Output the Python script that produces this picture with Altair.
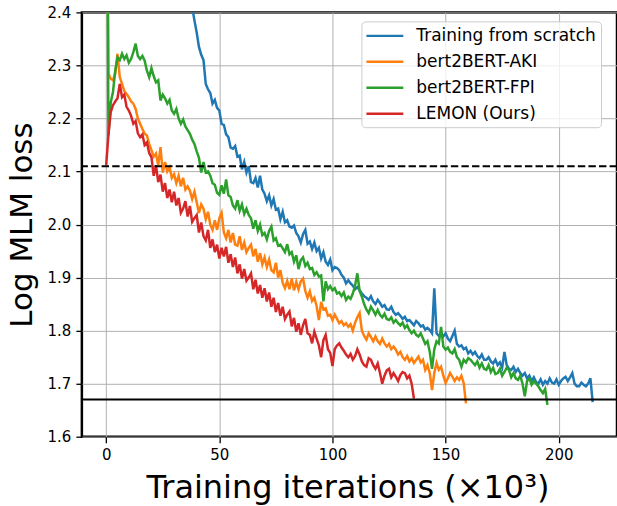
import altair as alt
import pandas as pd

SERIES = ["Training from scratch", "bert2BERT-AKI", "bert2BERT-FPI", "LEMON (Ours)"]
COLORS = ["#1f77b4", "#ff7f0e", "#2ca02c", "#d62728"]

X_TICKS = [0, 50, 100, 150, 200]
Y_TICKS = [1.6, 1.7, 1.8, 1.9, 2.0, 2.1, 2.2, 2.3, 2.4]
REF_DASHED = 2.11
REF_SOLID = 1.67

# loss curves, one value per 1k iterations
scratch_start = 30
scratch_loss = [
    2.6, 2.575, 2.55, 2.53, 2.505, 2.48, 2.455, 2.43, 2.41, 2.385,
    2.362, 2.335, 2.32, 2.31, 2.265, 2.255, 2.248, 2.228, 2.235, 2.22,
    2.215, 2.19, 2.188, 2.17, 2.165, 2.145, 2.143, 2.148, 2.128, 2.13,
    2.104, 2.118, 2.098, 2.11, 2.08, 2.078, 2.088, 2.07, 2.092, 2.066,
    2.058, 2.044, 2.055, 2.036, 2.048, 2.028, 2.03, 2.01, 2.024, 2.004,
    2.008, 1.996, 1.994, 1.998, 1.984, 1.978, 1.966, 1.982, 1.99, 1.964,
    1.968, 1.954, 1.966, 1.95, 1.956, 1.936, 1.948, 1.93, 1.924, 1.934,
    1.914, 1.92, 1.918, 1.914, 1.905, 1.9, 1.889, 1.895, 1.889, 1.885,
    1.878, 1.882, 1.876, 1.87, 1.865, 1.862, 1.858, 1.865, 1.855, 1.85,
    1.858, 1.852, 1.845, 1.848, 1.84, 1.839, 1.845, 1.835, 1.83, 1.833,
    1.828, 1.822, 1.826, 1.818, 1.82, 1.815, 1.81, 1.818, 1.814, 1.808,
    1.81, 1.802, 1.805, 1.801, 1.795, 1.88, 1.795, 1.79, 1.795, 1.789,
    1.795, 1.785, 1.78, 1.79, 1.80, 1.775, 1.77, 1.772, 1.765, 1.768,
    1.757, 1.762, 1.755, 1.76, 1.752, 1.748, 1.755, 1.745, 1.745, 1.75,
    1.742, 1.738, 1.745, 1.735, 1.74, 1.73, 1.76, 1.735, 1.728, 1.726,
    1.732, 1.722, 1.728, 1.72, 1.715, 1.72, 1.71, 1.715, 1.705, 1.712,
    1.703, 1.70, 1.708, 1.698, 1.705, 1.70, 1.71, 1.702, 1.70, 1.708,
    1.698, 1.705, 1.71, 1.713, 1.705, 1.712, 1.72, 1.70, 1.695, 1.695,
    1.702, 1.698, 1.695, 1.70, 1.71, 1.665,
]

aki_start = 0
aki_loss = [
    3.0, 2.285, 2.275, 2.272, 2.285, 2.322, 2.278, 2.265, 2.252, 2.246,
    2.24, 2.232, 2.228, 2.218, 2.2, 2.19, 2.18, 2.171, 2.168, 2.152,
    2.14, 2.128, 2.134, 2.112, 2.146, 2.098, 2.118, 2.1, 2.108, 2.088,
    2.095, 2.078, 2.092, 2.072, 2.088, 2.066, 2.072, 2.064, 2.048, 2.062,
    2.042, 2.022, 2.038, 2.03, 2.01, 2.024, 2.0, 1.99, 2.008, 1.99,
    2.012, 2.022, 1.985, 1.974, 1.99, 1.966, 1.984, 1.962, 1.96, 1.978,
    1.952, 1.966, 1.948, 1.956, 1.962, 1.94, 1.954, 1.93, 1.946, 1.925,
    1.938, 1.92, 1.934, 1.914, 1.91, 1.928, 1.9, 1.914, 1.89, 1.88,
    1.894, 1.878, 1.898, 1.876, 1.892, 1.878, 1.893, 1.898, 1.875, 1.862,
    1.874, 1.856, 1.862, 1.846, 1.82, 1.854, 1.84, 1.842, 1.828, 1.83,
    1.82, 1.83, 1.822, 1.814, 1.818, 1.81, 1.814, 1.807, 1.812, 1.8,
    1.815, 1.825, 1.833, 1.8, 1.79, 1.783, 1.795, 1.788, 1.78, 1.789,
    1.78, 1.775, 1.785, 1.776, 1.77, 1.775, 1.765, 1.77, 1.764, 1.755,
    1.76, 1.75, 1.745, 1.752, 1.742, 1.748, 1.739, 1.745, 1.751, 1.74,
    1.745, 1.726, 1.735, 1.72, 1.688, 1.72, 1.739, 1.726, 1.732, 1.715,
    1.701, 1.71, 1.72, 1.713, 1.705, 1.712, 1.707, 1.715, 1.701, 1.663,
]

fpi_start = 0
fpi_loss = [
    2.95, 2.168, 2.23, 2.25, 2.29, 2.315, 2.31, 2.322, 2.312, 2.319,
    2.305, 2.312, 2.325, 2.341, 2.318, 2.312, 2.318, 2.309, 2.29, 2.278,
    2.295, 2.28, 2.268, 2.272, 2.234, 2.245, 2.238, 2.228, 2.235, 2.215,
    2.209, 2.218, 2.2, 2.19, 2.198, 2.185, 2.178, 2.171, 2.16, 2.152,
    2.138, 2.126, 2.098, 2.118, 2.098, 2.1, 2.092, 2.078, 2.075, 2.06,
    2.056, 2.074, 2.058, 2.085, 2.055, 2.052, 2.036, 2.03, 2.046, 2.026,
    2.038, 2.02, 2.03, 2.018, 2.012, 1.992, 2.008, 1.988, 2.0, 1.98,
    1.984, 1.972, 1.988, 1.996, 1.97, 1.974, 1.96, 1.962, 1.955, 1.948,
    1.963, 1.944, 1.948, 1.93, 1.942, 1.916, 1.933, 1.938, 1.922, 1.928,
    1.916, 1.918, 1.905, 1.91, 1.902, 1.904, 1.855, 1.893, 1.878, 1.884,
    1.876, 1.88, 1.87, 1.872, 1.865, 1.872, 1.858, 1.864, 1.86, 1.87,
    1.885, 1.908, 1.875, 1.864, 1.85, 1.84, 1.833, 1.845, 1.838, 1.83,
    1.839, 1.83, 1.825, 1.832, 1.822, 1.82, 1.825, 1.815, 1.82, 1.814,
    1.81, 1.815, 1.805, 1.81, 1.801, 1.795, 1.8, 1.792, 1.789, 1.795,
    1.785, 1.775, 1.78, 1.76, 1.728, 1.765, 1.78, 1.776, 1.807, 1.77,
    1.764, 1.768, 1.76, 1.757, 1.765, 1.75, 1.745, 1.732, 1.745, 1.74,
    1.748, 1.745, 1.74, 1.735, 1.742, 1.73, 1.738, 1.728, 1.726, 1.735,
    1.722, 1.73, 1.718, 1.72, 1.728, 1.715, 1.722, 1.73, 1.726, 1.712,
    1.72, 1.71, 1.707, 1.715, 1.7, 1.676, 1.705, 1.71, 1.698, 1.705,
    1.70, 1.695, 1.688, 1.682, 1.69, 1.66,
]

lemon_start = 0
lemon_loss = [
    2.112, 2.17, 2.212, 2.225, 2.232, 2.238, 2.265, 2.24, 2.245, 2.222,
    2.215, 2.205, 2.19, 2.195, 2.172, 2.165, 2.17, 2.15, 2.155, 2.135,
    2.127, 2.092, 2.112, 2.08, 2.094, 2.062, 2.078, 2.05, 2.066, 2.042,
    2.062, 2.036, 2.05, 2.022, 2.03, 2.044, 2.015, 2.035, 2.005, 2.012,
    2.018, 1.985, 2.004, 1.978, 1.97, 1.99, 1.956, 1.972, 1.948, 1.962,
    1.936, 1.956, 1.94, 1.958, 1.928, 1.944, 1.92, 1.938, 1.908, 1.925,
    1.898, 1.916, 1.894, 1.9, 1.908, 1.878, 1.896, 1.87, 1.886, 1.862,
    1.88, 1.855, 1.872, 1.845, 1.862, 1.835, 1.852, 1.828, 1.845, 1.822,
    1.83, 1.836, 1.808, 1.824, 1.798, 1.814, 1.792, 1.81, 1.822, 1.795,
    1.792, 1.776, 1.798, 1.785, 1.772, 1.75, 1.782, 1.792, 1.765, 1.758,
    1.733, 1.765, 1.772, 1.776, 1.768, 1.762, 1.755, 1.75, 1.756, 1.745,
    1.752, 1.765, 1.755, 1.742, 1.735, 1.732, 1.748, 1.745, 1.735, 1.728,
    1.738, 1.72, 1.70, 1.715, 1.725, 1.728, 1.712, 1.72, 1.713, 1.705,
    1.716, 1.722, 1.72, 1.71, 1.715, 1.70, 1.672,
]

rows = []
for name, start, vals in [
    (SERIES[0], scratch_start, scratch_loss),
    (SERIES[1], aki_start, aki_loss),
    (SERIES[2], fpi_start, fpi_loss),
    (SERIES[3], lemon_start, lemon_loss),
]:
    for i, v in enumerate(vals):
        rows.append({"series": name, "iter": start + i, "loss": v})
df = pd.DataFrame(rows)

FONT = "DejaVu Sans"

x_enc = alt.X(
    "iter:Q",
    scale=alt.Scale(domain=[-10.75, 225.75], nice=False, zero=False),
    axis=alt.Axis(
        values=X_TICKS, format="d", title="Training iterations (×10³)",
        grid=True, gridColor="#b0b0b0", gridWidth=1, domain=False,
        ticks=True, tickSize=6, tickWidth=1.3, tickColor="black",
        labelFont=FONT, labelFontSize=15, labelColor="black", labelPadding=5,
        titleFont=FONT, titleFontSize=32, titleFontWeight="normal", titleColor="black",
        titleBaseline="alphabetic", titleY=61, titleX=266, titleAlign="center",
    ),
)
y_enc = alt.Y(
    "loss:Q",
    scale=alt.Scale(domain=[1.6, 2.4], nice=False, zero=False),
    axis=alt.Axis(
        values=Y_TICKS, format=".1f", title="Log MLM loss",
        grid=True, gridColor="#b0b0b0", gridWidth=1, domain=False,
        ticks=True, tickSize=6, tickWidth=1.3, tickColor="black",
        labelFont=FONT, labelFontSize=15, labelColor="black", labelPadding=5,
        titleFont=FONT, titleFontSize=31, titleFontWeight="normal", titleColor="black",
        titleAngle=270, titleBaseline="alphabetic", titleX=-50, titleY=212.5,
        titleAlign="center",
    ),
)
color_enc = alt.Color(
    "series:N",
    scale=alt.Scale(domain=SERIES, range=COLORS),
    legend=alt.Legend(
        title=None, orient="none", legendX=280, legendY=9,
        symbolType="M-2.31,0L2.31,0", symbolSize=256, symbolStrokeWidth=2.4,
        symbolOffset=9, labelOffset=22, rowPadding=8, padding=5,
        labelFont=FONT, labelFontSize=17, labelColor="black", labelLimit=0,
        strokeColor="#cccccc", fillColor="rgba(255,255,255,0.8)", cornerRadius=4,
    ),
)

layers = []
for name in SERIES:
    layers.append(
        alt.Chart(df)
        .transform_filter(alt.datum.series == name)
        .mark_line(clip=True, strokeWidth=2.5)
        .encode(x=x_enc, y=y_enc, color=color_enc)
    )

dashed = alt.Chart(pd.DataFrame({"loss": [REF_DASHED]})).mark_rule(
    color="black", strokeWidth=2, strokeDash=[7.4, 3.2]
).encode(y=alt.Y("loss:Q"))
solid = alt.Chart(pd.DataFrame({"loss": [REF_SOLID]})).mark_rule(
    color="black", strokeWidth=2
).encode(y=alt.Y("loss:Q"))

chart = (
    alt.layer(*layers, dashed, solid)
    .properties(
        width=536, height=425,
        padding={"left": 82, "top": 12, "right": 0, "bottom": 69},
        autosize=alt.AutoSizeParams(type="none"),
    )
    .configure_view(stroke="black", strokeWidth=2.5)
)

chart.save("out.html", embed_options={"renderer": "svg", "actions": False})
